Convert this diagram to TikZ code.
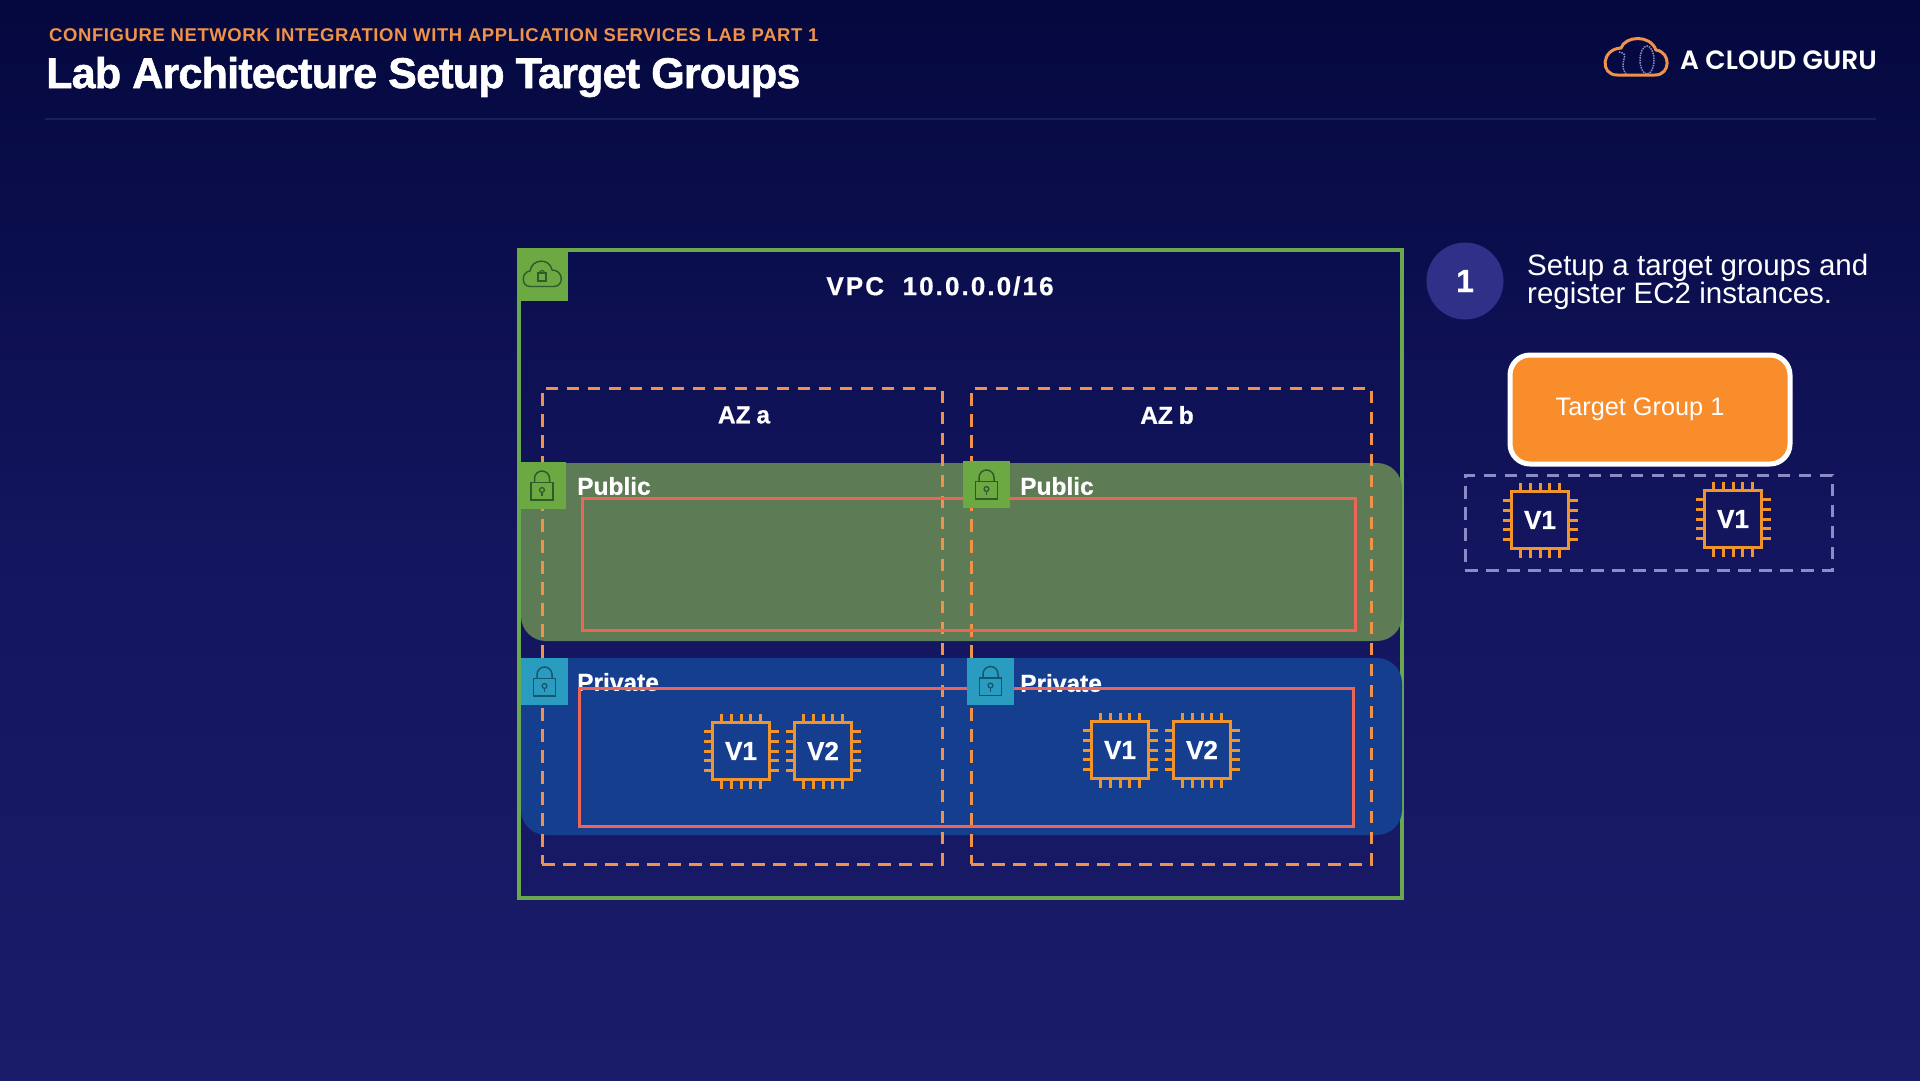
\documentclass[tikz,border=0pt]{standalone}
\usepackage{fontspec}
\setmainfont{Liberation Sans}
\newfontfamily\titlefont[LetterSpace=-1.8,FakeBold=1.4]{Liberation Sans Bold}
\newfontfamily\headfont[LetterSpace=3.2]{Liberation Sans Bold}
\newfontfamily\logofont{Poppins SemiBold}
\newfontfamily\vpcfont[LetterSpace=8,FakeBold=0.6]{Liberation Sans Bold}
\newfontfamily\lblfont[FakeBold=0.7]{Liberation Sans Bold}
\usetikzlibrary{positioning,calc}
\definecolor{bgtop}{HTML}{04083E}
\definecolor{bgmid}{HTML}{13155E}
\definecolor{bgbot}{HTML}{1A1C6A}
\definecolor{vpcgreen}{HTML}{6AA84F}
\definecolor{iconfill}{HTML}{6CA943}
\definecolor{privicon}{HTML}{2A9CC0}
\definecolor{pubband}{HTML}{5D7B55}
\definecolor{privband}{HTML}{153F8E}
\definecolor{azorange}{HTML}{F0924A}
\definecolor{subnetred}{HTML}{EC6557}
\definecolor{chiporange}{HTML}{F0952D}
\definecolor{tgorange}{HTML}{F98D2B}
\definecolor{stepblue}{HTML}{2E3187}
\definecolor{lavender}{HTML}{8A8CC8}
\definecolor{lockgreen}{HTML}{2B5C2A}
\definecolor{lockblue}{HTML}{17566F}
\definecolor{rulecol}{HTML}{1B1E5C}
\begin{document}
\begin{tikzpicture}[
    x=1pt, y=-1pt,
    vpc/.style={draw=vpcgreen, line width=4pt, inner sep=0pt},
    band/.style={rounded corners=25pt, inner sep=0pt},
    az/.style={draw=azorange, line width=3pt, dash pattern=on 12.5pt off 8.5pt, inner sep=0pt},
    subnet/.style={draw=subnetred, line width=3pt, inner sep=0pt},
    icon/.style={inner sep=0pt, minimum size=47pt},
    lbl/.style={text=white, font=\lblfont\fontsize{24.5}{24}\selectfont, anchor=west, inner sep=0pt},
    chipbox/.style={draw=chiporange, line width=3.5pt, inner sep=0pt, minimum size=57pt,
      text=white, font=\lblfont\fontsize{26}{26}\selectfont},
    chip/.pic={
      \node[chipbox] (-box) {\tikzpictext};
      \foreach \d in {-19.6,-9.8,0,9.8,19.6} {
        \draw[chiporange, line width=3pt] (\d,-29) -- (\d,-37.5);
        \draw[chiporange, line width=3pt] (\d,29) -- (\d,37.5);
        \draw[chiporange, line width=3pt] (-29,\d) -- (-37.5,\d);
        \draw[chiporange, line width=3pt] (29,\d) -- (37.5,\d);
      }
    },
    lock/.pic={
      \draw[line width=1.5pt] (-11,-3.2) rectangle (11,14.5);
      \draw[line width=1.5pt] (-7.5,-3.2) -- (-7.5,-7) arc (180:360:7.5) -- (7.5,-3.2);
      \draw[line width=1.3pt] (0,4.5) circle (2.4);
      \draw[line width=1.3pt] (0,6.9) -- (0,10.5);
    }
  ]
    \useasboundingbox (0,0) rectangle (1920,1080);
    \node[inner sep=0pt, minimum width=1920pt, minimum height=1080pt, top color=bgtop, bottom color=bgbot, middle color=bgmid] (bg) at (960,540) {};
    % header
    \node[anchor=west, inner sep=0pt, text=azorange, font=\headfont\fontsize{18.5}{18.5}\selectfont] (sub) at (49,35)
      {CONFIGURE NETWORK INTEGRATION WITH APPLICATION SERVICES LAB PART 1};
    \node[anchor=west, inner sep=0pt, text=white, font=\titlefont\fontsize{43}{43}\selectfont] (title) at (46,77)
      {Lab Architecture Setup Target Groups};
    \node[anchor=west, inner sep=0pt, text=white, font=\logofont\fontsize{26.5}{26}\selectfont] (logo) at (1680,60) {A CLOUD GURU};
    \node[inner sep=0pt, minimum width=1831pt, minimum height=2pt, fill=rulecol] (rule) at (960.5,119) {};
    \draw[azorange, line width=3pt] (1617,75) -- (1655,75) .. controls (1671,75) and (1671,52) .. (1656,50)
      .. controls (1650,34) and (1625,36) .. (1621,48) .. controls (1601,49) and (1600,75) .. (1617,75) -- cycle;
    \draw[lavender, line width=1.5pt, densely dotted] (1647,60) ellipse (7 and 14);
    \draw[lavender, line width=1.5pt, densely dotted] (1619,52) .. controls (1632,54) and (1617,62) .. (1626,74);
    % vpc
    \node[vpc, minimum width=883pt, minimum height=648pt] (vpcbox) at (960.5,574) {};
    \node[inner sep=0pt, minimum width=51pt, minimum height=53pt, fill=iconfill] (vpcicon) at (542.5,274.5) {};
    \draw[lockgreen, line width=1.4pt] (530,286.5) .. controls (521,286.5) and (521,272) .. (530,271)
      .. controls (532,258) and (550,258) .. (552,270) .. controls (564,270) and (564,286.5) .. (554,286.5) -- cycle;
    \draw[lockgreen, line width=1.2pt] (538,273) rectangle (546,281);
    \draw[lockgreen, line width=1.2pt] (539.5,273) arc (180:360:2.5);
    \node[text=white, inner sep=0pt, font=\vpcfont\fontsize{26}{26}\selectfont] (vpclbl) at (940,286) {VPC\ \ 10.0.0.0/16};
    % bands
    \node[band, fill=pubband, minimum width=881pt, minimum height=178pt] (pub) at (961.5,552) {};
    \node[band, fill=privband, minimum width=881pt, minimum height=177pt] (priv) at (961.5,746.5) {};
    % availability zones
    \node[az, minimum width=400pt, minimum height=476pt] (aza) at (742,626) {};
    \node[az, minimum width=400pt, minimum height=476pt] (azb) at (1171,626) {};
    \node[lbl, anchor=center] (azalbl) at (744,415) {AZ\kern-1pt\ a};
    \node[lbl, anchor=center] (azblbl) at (1167,415) {AZ\kern-1pt\ b};
    % subnet labels
    \node[lbl] (publbla) at (577,486) {Public};
    \node[lbl] (publblb) at (1020,486) {Public};
    \node[lbl] (privlbla) at (577,682) {Private};
    \node[lbl] (privlblb) at (1020,683) {Private};
    % red subnets
    \node[subnet, minimum width=773pt, minimum height=132pt] (subpub) at (968.5,564) {};
    \node[subnet, minimum width=774pt, minimum height=138pt] (subpriv) at (966,757) {};
    % subnet icons
    \node[icon, fill=iconfill] (pubicona) at (542,485.5) {};
    \node[icon, fill=iconfill] (pubiconb) at (986.5,484.5) {};
    \node[icon, fill=privicon] (privicona) at (544.5,681.5) {};
    \node[icon, fill=privicon] (priviconb) at (990.5,681) {};
    \pic[color=lockgreen] at (pubicona) {lock};
    \pic[color=lockgreen] at (pubiconb) {lock};
    \pic[color=lockblue] at (privicona) {lock};
    \pic[color=lockblue] at (priviconb) {lock};
    % instances
    \pic[pic text=V1] (a1) at (741,751) {chip};
    \pic[pic text=V2] (a2) at (823,751) {chip};
    \pic[pic text=V1] (b1) at (1120,750) {chip};
    \pic[pic text=V2] (b2) at (1202,750) {chip};
    % right side
    \node[circle, fill=stepblue, minimum size=77pt, inner sep=0pt, text=white, font=\lblfont\fontsize{32}{32}\selectfont] (stepone) at (1465,281) {1};
    \node[anchor=west, align=left, inner sep=0pt, text=white, font=\fontsize{29.5}{28}\selectfont] (steptext) at (1527,281.5)
      {Setup a target groups and\\register EC2 instances.};
    \node[draw=white, fill=tgorange, line width=5pt, rounded corners=20pt, minimum width=280pt, minimum height=109pt, inner sep=0pt,
      text=white, font=\fontsize{25.3}{25}\selectfont] (tg) at (1650,409.5) {\raisebox{4pt}{Target Group 1}\hspace*{20pt}};
    \node[draw=lavender, line width=3pt, dash pattern=on 12.5pt off 8.5pt, minimum width=367pt, minimum height=95pt, inner sep=0pt] (tgmembers) at (1648.5,522.5) {};
    \pic[pic text=V1] (t1) at (1540,520) {chip};
    \pic[pic text=V1] (t2) at (1733,519) {chip};
\end{tikzpicture}
\end{document}
